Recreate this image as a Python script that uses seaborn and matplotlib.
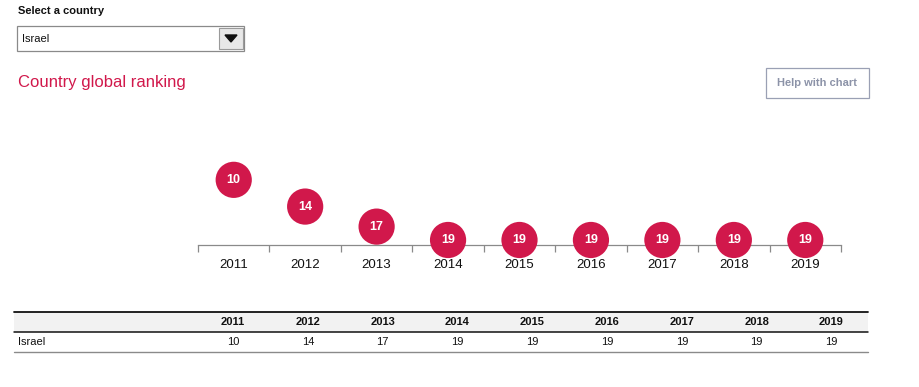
import matplotlib.pyplot as plt
import numpy as np
import pandas as pd
import seaborn as sns
from matplotlib.patches import Rectangle, Polygon

sns.set_theme(style="white")
plt.rcParams["font.family"] = ["Liberation Sans", "DejaVu Sans"]

country = "Israel"
years = ["2011", "2012", "2013", "2014", "2015", "2016", "2017", "2018", "2019"]
ranks = [10, 14, 17, 19, 19, 19, 19, 19, 19]

RED = "#D1184B"
W, H = 920, 387


def fx(px):
    return px / W


def fy(py):
    return 1 - py / H


fig = plt.figure(figsize=(W / 100, H / 100), dpi=100)

# header controls
fig.text(fx(18), fy(11), "Select a country", fontsize=8, fontweight="bold",
         va="center", color="#111111")
fig.patches.append(Rectangle((fx(17), fy(51)), fx(227), 25 / H, transform=fig.transFigure,
                             fill=False, edgecolor="#8a8a8a", lw=0.9))
fig.patches.append(Rectangle((fx(219), fy(49)), fx(24), 21 / H, transform=fig.transFigure,
                             facecolor="#e8e8e8", edgecolor="#9a9a9a", lw=0.8))
fig.patches.append(Polygon([(fx(225), fy(35)), (fx(237), fy(35)), (fx(231), fy(42))],
                           closed=True, transform=fig.transFigure, color="#111111"))
fig.text(fx(22), fy(39), country, fontsize=8, va="center", color="#111111")

fig.text(fx(18), fy(83), "Country global ranking", fontsize=12, va="center", color=RED)

fig.patches.append(Rectangle((fx(766), fy(98)), fx(103), 30 / H, transform=fig.transFigure,
                             fill=False, edgecolor="#9aa0b4", lw=0.9))
fig.text(fx(817.5), fy(83), "Help with chart", fontsize=8, fontweight="bold",
         ha="center", va="center", color="#8c93a8")

# ranking chart
df = pd.DataFrame({"year": years, "rank": ranks})
df["pos"] = np.arange(len(years))

ax = fig.add_axes([fx(198), fy(245), 643 / W, 132 / H])
sns.scatterplot(data=df, x="pos", y="rank", ax=ax, s=680, color=RED,
                edgecolor="none", legend=False, zorder=3, clip_on=False)
for _, r in df.iterrows():
    ax.text(r["pos"], r["rank"], str(r["rank"]), ha="center", va="center",
            color="white", fontsize=9, fontweight="bold", zorder=4)

ax.set_xlim(-0.5, len(years) - 0.5)
ax.set_ylim(19.75, 0)
ax.set_xticks(np.arange(len(years)))
ax.set_xticklabels(years, fontsize=9.5, color="#111111")
ax.set_xticks(np.arange(len(years) + 1) - 0.5, minor=True)
ax.tick_params(axis="x", which="major", length=0, pad=10)
ax.tick_params(axis="x", which="minor", length=5, width=0.9, color="#8a8a8a",
               direction="out", bottom=True)
ax.set_yticks([])
ax.set_xlabel("")
ax.set_ylabel("")
for side in ["top", "left", "right"]:
    ax.spines[side].set_visible(False)
ax.spines["bottom"].set_color("#8a8a8a")
ax.spines["bottom"].set_linewidth(0.9)
ax.patch.set_alpha(0)

# data table
tl, tr = 14, 868
fig.patches.append(Rectangle((fx(tl), fy(332)), fx(tr - tl), 20 / H, transform=fig.transFigure,
                             facecolor="#f2f2f2", edgecolor="none"))
fig.lines.append(plt.Line2D([fx(tl), fx(tr)], [fy(312), fy(312)], transform=fig.transFigure,
                            color="#111111", lw=1.3))
fig.lines.append(plt.Line2D([fx(tl), fx(tr)], [fy(332), fy(332)], transform=fig.transFigure,
                            color="#111111", lw=1.1))
fig.lines.append(plt.Line2D([fx(tl), fx(tr)], [fy(352), fy(352)], transform=fig.transFigure,
                            color="#8a8a8a", lw=1.0))
fig.text(fx(18), fy(342), country, fontsize=8, va="center", color="#111111")
for i, (yr, rk) in enumerate(zip(years, ranks)):
    cx = 233 + i * 74.8
    fig.text(fx(cx), fy(322), yr, fontsize=8, fontweight="bold", ha="center",
             va="center", color="#111111")
    fig.text(fx(cx), fy(342), str(rk), fontsize=8, ha="center", va="center",
             color="#111111")

fig.savefig("out.png", dpi=100)
plt.close(fig)
